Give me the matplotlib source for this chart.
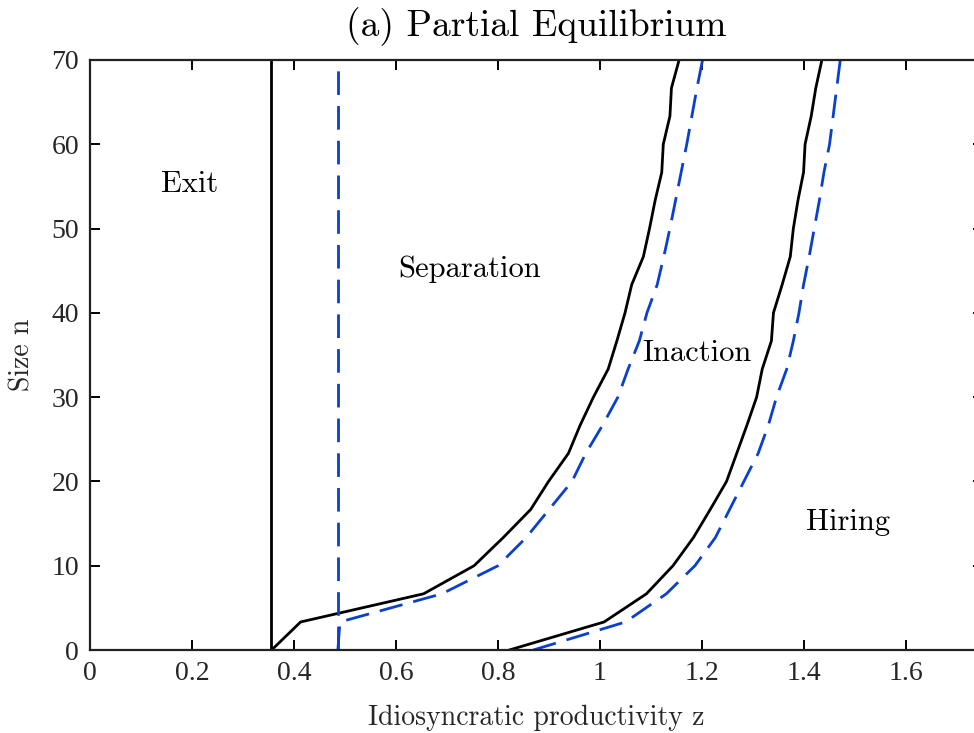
import matplotlib
matplotlib.use("Agg")
import matplotlib.pyplot as plt

# size grid (n) and thresholds in z
n_grid = [0, 3.33, 6.67, 10, 13.33, 16.67, 20, 23.33, 26.67, 30, 33.33, 36.67,
          40, 43.33, 46.67, 50, 53.33, 56.67, 60, 63.33, 66.67, 70]

sep_pe = [0.356, 0.413, 0.654, 0.753, 0.81, 0.864, 0.899, 0.938, 0.961, 0.987, 1.016, 1.033,
          1.049, 1.062, 1.085, 1.097, 1.108, 1.121, 1.124, 1.137, 1.14, 1.155]
hire_pe = [0.822, 1.008, 1.091, 1.143, 1.183, 1.216, 1.248, 1.268, 1.288, 1.307, 1.318, 1.336,
           1.340, 1.357, 1.373, 1.379, 1.388, 1.399, 1.402, 1.414, 1.423, 1.435]
sep_alt = [0.486, 0.49, 0.69, 0.80, 0.855, 0.90, 0.945, 0.972, 1.005, 1.035, 1.055, 1.077,
           1.092, 1.112, 1.125, 1.137, 1.148, 1.159, 1.17, 1.18, 1.19, 1.201]
hire_alt = [0.869, 1.05, 1.13, 1.186, 1.226, 1.254, 1.282, 1.310, 1.330, 1.346, 1.366, 1.379,
            1.39, 1.399, 1.41, 1.42, 1.43, 1.439, 1.45, 1.457, 1.464, 1.471]

exit_pe = 0.355
exit_alt = 0.486

regions = ["Exit", "Separation", "Inaction", "Hiring"]
region_z = [0.196, 0.745, 1.19, 1.486]
region_n = [55.2, 45.2, 35.2, 15.2]

blue = '#0a40cc'
cm = 'cmr10'

fig = plt.figure(figsize=(9.74, 7.33), dpi=100)
ax = fig.add_axes([0.0924, 0.1132, 0.9164, 0.805])

ax.plot([exit_pe, exit_pe], [0, 70], color='black', lw=2)
ax.plot(sep_pe, n_grid, color='black', lw=2)
ax.plot(hire_pe, n_grid, color='black', lw=2)
ax.plot([exit_alt, exit_alt], [0, 70], color=blue, lw=2, dashes=(8.5, 4))
ax.plot(sep_alt, n_grid, color=blue, lw=2, dashes=(8.5, 4))
ax.plot(hire_alt, n_grid, color=blue, lw=2, dashes=(8.5, 4))

for lab, zx, ny in zip(regions, region_z, region_n):
    ax.text(zx, ny, lab, ha='center', va='center', fontsize=22, family=cm)

ax.set_xlim(0, 1.75)
ax.set_ylim(0, 70)
ax.set_xticks([0, 0.2, 0.4, 0.6, 0.8, 1, 1.2, 1.4, 1.6])
ax.set_xticklabels(['0', '0.2', '0.4', '0.6', '0.8', '1', '1.2', '1.4', '1.6'])
ax.set_yticks(range(0, 71, 10))
ax.tick_params(direction='in', top=True, right=True, length=7, width=1.4,
               labelsize=20, pad=8, labelcolor='#262626')
for lbl in ax.get_xticklabels() + ax.get_yticklabels():
    lbl.set_family('Liberation Serif')
for sp in ax.spines.values():
    sp.set_linewidth(1.6)
    sp.set_color('#222222')

ax.set_xlabel('Idiosyncratic productivity z', fontsize=20, family=cm, labelpad=13,
              color='#262626')
ax.set_ylabel('Size n', fontsize=20, family=cm, labelpad=11, color='#262626')
ax.set_title('(a) Partial Equilibrium', fontsize=27, family=cm, pad=17)

fig.savefig('out.png', dpi=100)
